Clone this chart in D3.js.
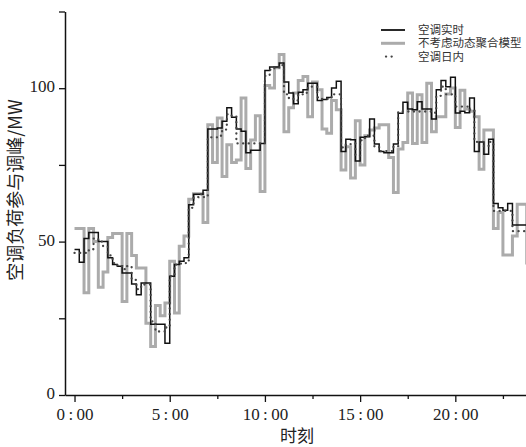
<!DOCTYPE html>
<html>
<head>
<meta charset="utf-8">
<script src="https://cdn.jsdelivr.net/npm/d3@7"></script>
<style>
  body { margin: 0; background: #fff; overflow: hidden; }
  svg { display: block; }
</style>
</head>
<body>
<div id="chart"></div>
<script>
// 15-minute intervals, index i covers [i*0.25h, (i+1)*0.25h]
const realTime = [ // 空调实时
  47.4, 43.3, 51, 53, 53, 50, 50, 44.7, 42.5, 42, 39.8, 39.8,
  36.2, 32.7, 36.5, 36.5, 23.1, 23.1, 23.1, 16.9, 38.7, 42.5, 43.6, 44.7,
  62, 65.4, 65.4, 66.7, 86.7, 86.7, 87, 89.2, 93.6, 90.5, 86.7, 86,
  79, 79.8, 79.8, 82, 105.8, 106.9, 106.9, 108.2, 102, 98.4, 94.9, 98.7,
  99.5, 101.6, 101.6, 96, 96.3, 97, 100.1, 102.3, 79.4, 83.4, 83.2, 76.3,
  84, 84.2, 90, 81.8, 79.4, 79, 79, 81.8, 91.8, 95.4, 93.2, 93,
  95.6, 93.2, 93.2, 90, 99.5, 102.5, 100.5, 103.6, 91.9, 92.5, 92, 96.8,
  79.4, 82.5, 78.5, 83.4, 62.4, 61, 60.2, 62.4, 55.4, 55.4, 55.4, 55.4
];
const noAggModel = [ // 不考虑动态聚合模型
  54.3, 54.3, 33.3, 54.3, 50, 35.1, 40.1, 51.3, 52.6, 52.6, 30.5, 52.6,
  45.5, 41.4, 41.4, 23.4, 15.8, 29.2, 25.8, 30, 43.6, 26.7, 48.5, 51.8,
  63.8, 65.6, 65.6, 56.2, 88.1, 75.8, 90.3, 71.2, 81.6, 75.8, 76.6, 96.8,
  73.8, 83.1, 91, 66.3, 100.9, 100.1, 106.7, 111, 85.8, 93.6, 98.4, 102.5,
  103.8, 90.7, 102, 99.5, 86.7, 85.3, 96, 93, 73.3, 80.9, 70.7, 89.4,
  75, 84.5, 86.4, 87, 88.1, 88.1, 77.4, 66, 80.2, 82.3, 98.4, 82,
  97.9, 82.3, 101.6, 85.8, 90.7, 90.7, 98.1, 100.1, 87.2, 99.3, 93.2, 92.5,
  90.7, 73.6, 86.4, 86.4, 54.3, 59.5, 45.6, 45.6, 51.8, 62.2, 62.2, 43
];
const intraDay = [ // 空调日内
  46.3, 46.3, 46.3, 47.5, 51, 50, 48.5, 45.5, 43, 42, 41, 42,
  37.5, 34.5, 36, 36, 24, 20.7, 20.7, 22, 38.7, 42.5, 42.8, 43,
  61, 64.5, 65.4, 64.5, 84, 84, 84.5, 86.5, 91.5, 90.8, 82, 82,
  82, 82, 82, 82, 104, 106, 106.5, 107.5, 98, 96.8, 96, 98,
  98.5, 100.5, 100.5, 97, 96.5, 96.5, 98, 98, 80.7, 81.5, 82, 78,
  83, 84.5, 84.5, 81, 79.5, 79.5, 79.5, 81, 92.4, 92.4, 92.4, 92.4,
  92.4, 92.4, 92.4, 92, 97.5, 100.5, 98, 98, 94, 94, 94, 93,
  82.5, 82.5, 81, 82.5, 60, 60, 60, 60, 53.4, 53.4, 53.4, 53.4
];
const yTicks = [0, 25, 50, 75, 100, 125];
const yLabels = [0, 50, 100];
const xTicks = [0, 2.5, 5, 7.5, 10, 12.5, 15, 17.5, 20, 22.5];
const xLabels = [0, 5, 10, 15, 20];
const legendNames = ['空调实时', '不考虑动态聚合模型', '空调日内'];

const width = 526, height = 447;
const svg = d3.select('#chart').append('svg')
  .attr('width', width)
  .attr('height', height);

const x = d3.scaleLinear().domain([-0.5, 24.5]).range([65, 541]);
const y = d3.scaleLinear().domain([0, 125]).range([395, 11.5]);

// step data: add closing point at 24h
const toSteps = vals => vals.map((v, i) => [i * 0.25, v]).concat([[24, vals[vals.length - 1]]]);

const line = d3.line()
  .x(d => x(d[0]))
  .y(d => y(d[1]))
  .curve(d3.curveStepAfter);

svg.append('path')
  .datum(toSteps(noAggModel))
  .attr('fill', 'none')
  .attr('stroke', '#ababab')
  .attr('stroke-width', 3)
  .attr('d', line);

svg.append('path')
  .datum(toSteps(realTime))
  .attr('fill', 'none')
  .attr('stroke', '#111')
  .attr('stroke-width', 1.5)
  .attr('d', line);

svg.append('path')
  .datum(toSteps(intraDay))
  .attr('fill', 'none')
  .attr('stroke', '#444')
  .attr('stroke-width', 2.3)
  .attr('stroke-linecap', 'round')
  .attr('stroke-dasharray', '0.1,5.5')
  .attr('d', line);

// axes
const serif = '"Liberation Serif", "Times New Roman", serif';

const yAxis = svg.append('g')
  .attr('transform', `translate(${x(-0.5)},0)`)
  .call(d3.axisLeft(y).tickValues(yTicks).tickSize(6).tickSizeOuter(0)
    .tickFormat(d => yLabels.includes(d) ? d : ''));
yAxis.select('.domain').attr('stroke', '#111').attr('stroke-width', 1.5);
yAxis.selectAll('.tick line').attr('stroke', '#111').attr('stroke-width', 1.3);
yAxis.selectAll('.tick text')
  .attr('font-family', serif)
  .attr('font-size', 17)
  .attr('fill', '#222')
  .attr('x', -10)
  .attr('dy', '0.2em');

const xAxis = svg.append('g')
  .attr('transform', `translate(0,${y(0)})`)
  .call(d3.axisBottom(x).tickValues(xTicks).tickSize(6).tickSizeOuter(0)
    .tickFormat(d => xLabels.includes(d) ? d + '\u2009:\u200900' : ''));
xAxis.select('.domain').attr('stroke', '#111').attr('stroke-width', 1.5);
xAxis.selectAll('.tick line')
  .attr('stroke', '#111').attr('stroke-width', 1.3)
  .attr('y2', d => xLabels.includes(d) ? 7 : 4);
xAxis.selectAll('.tick text')
  .attr('font-family', serif)
  .attr('font-size', 17)
  .attr('fill', '#222')
  .attr('y', 13);

// axis titles
svg.append('text')
  .attr('transform', `translate(22,190) rotate(-90)`)
  .attr('text-anchor', 'middle')
  .attr('font-family', '"Noto Sans CJK SC", sans-serif')
  .attr('font-size', 18)
  .attr('fill', '#222')
  .text('空调负荷参与调峰/MW');

svg.append('text')
  .attr('x', 297)
  .attr('y', 442)
  .attr('text-anchor', 'middle')
  .attr('font-family', '"Noto Sans CJK SC", sans-serif')
  .attr('font-size', 17)
  .attr('fill', '#222')
  .text('时刻');

// legend
const legend = svg.append('g').attr('transform', 'translate(381,30)');
legendNames.forEach((name, i) => {
  const row = legend.append('g').attr('transform', `translate(0,${i * 13.3})`);
  if (i === 0) {
    row.append('line').attr('x1', 0).attr('x2', 24).attr('stroke', '#111').attr('stroke-width', 1.8);
  } else if (i === 1) {
    row.append('line').attr('x1', 0).attr('x2', 24).attr('stroke', '#ababab').attr('stroke-width', 3);
  } else {
    row.append('line').attr('x1', 5).attr('x2', 12).attr('stroke', '#444')
      .attr('stroke-width', 2.3).attr('stroke-linecap', 'round').attr('stroke-dasharray', '0.1,5.5');
  }
  row.append('text')
    .attr('x', 37)
    .attr('y', 4)
    .attr('font-family', '"Noto Sans CJK SC", sans-serif')
    .attr('font-size', 11.5)
    .attr('fill', '#333')
    .text(name);
});
</script>
</body>
</html>
